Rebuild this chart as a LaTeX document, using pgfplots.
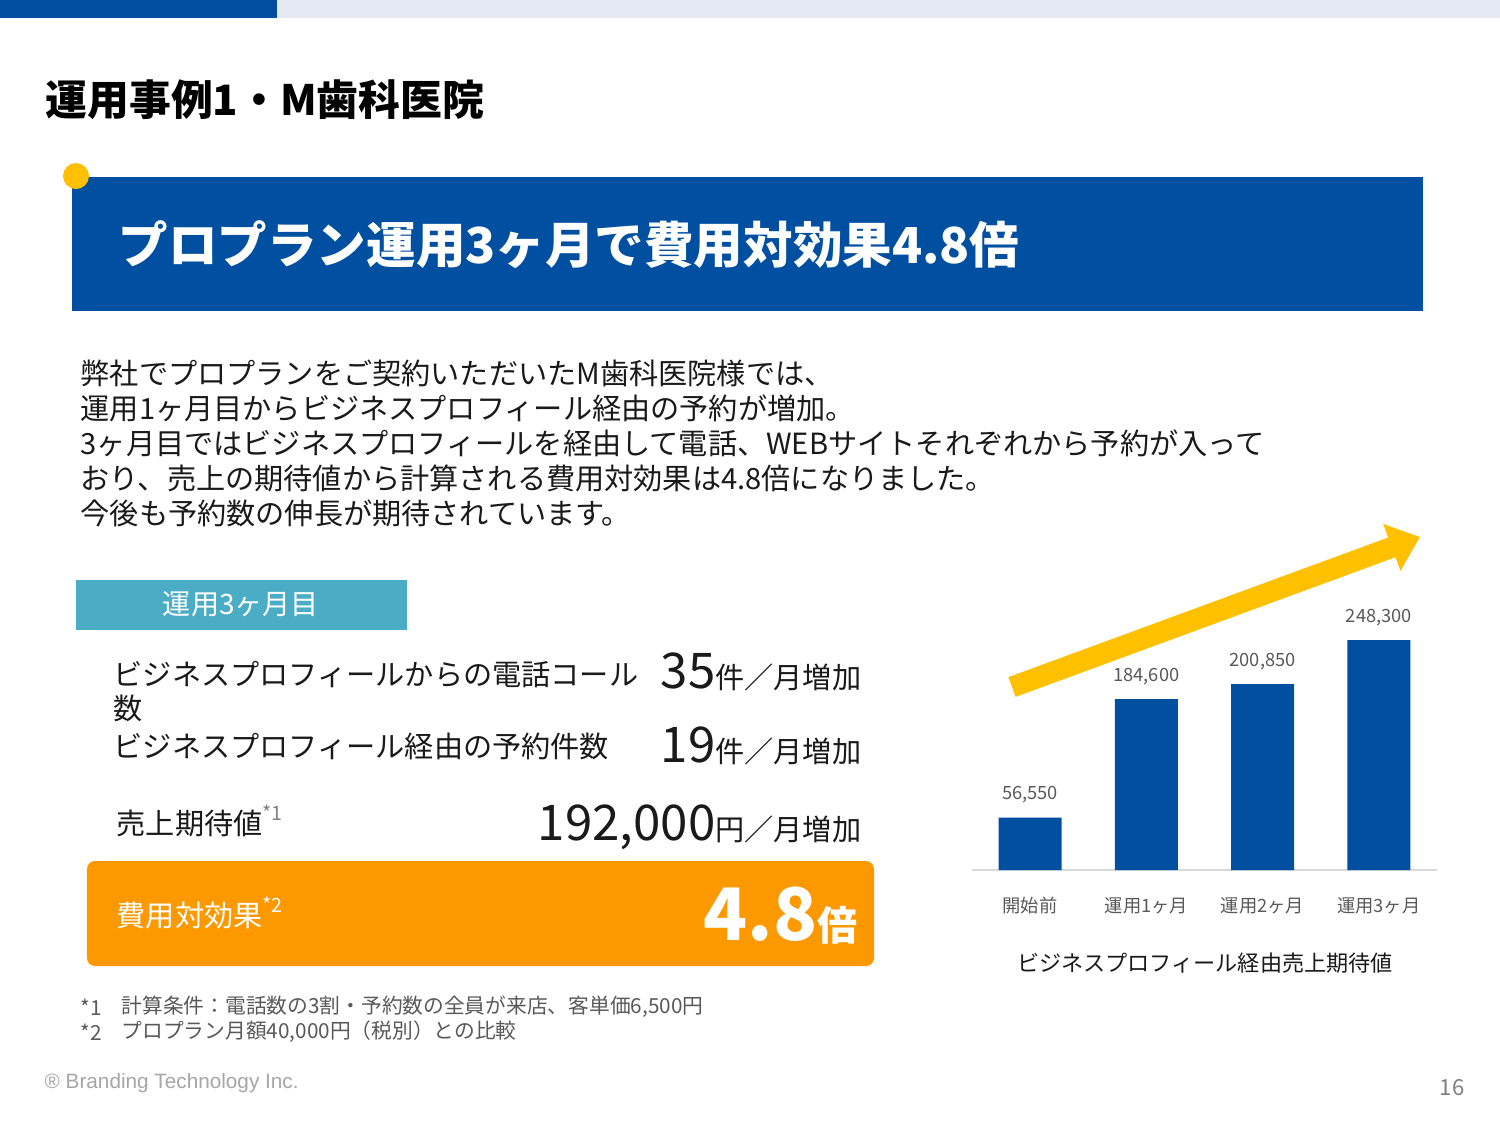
\documentclass[border=0pt]{standalone}
\usepackage{fontspec}
\setmainfont{Noto Sans CJK JP}
\newfontfamily\lib{Liberation Sans}
\usepackage{pgfplots}
\pgfplotsset{compat=1.18}
\usetikzlibrary{arrows.meta}
\definecolor{bblue}{RGB}{0,79,160}
\definecolor{lightband}{RGB}{227,234,244}
\definecolor{yel}{RGB}{255,192,0}
\definecolor{tealbox}{RGB}{75,172,198}
\definecolor{orng}{RGB}{253,153,0}
\definecolor{gtxt}{RGB}{89,89,89}
\definecolor{ltgray}{RGB}{217,217,217}
\definecolor{txt}{RGB}{26,26,26}
\newcommand{\fs}[1]{\fontsize{#1}{#1}\selectfont}
\newcommand{\sups}[2]{\raisebox{0.5em}{\fs{5.6}\color{#1}#2}}
\begin{document}
\begin{tikzpicture}[x=1cm,y=1cm]
\path[use as bounding box, fill=white] (0,0) rectangle (15,-11.25);
% top band
\fill[bblue] (0,0) rectangle (2.77,-0.18);
\fill[lightband] (2.77,0) rectangle (15,-0.18);
% heading
\node[anchor=west, inner sep=0, text=black, font=\fs{11.9}\bfseries] at (0.45,-1.00) {運用事例1・M歯科医院};
% banner
\fill[bblue] (0.72,-1.77) rectangle (14.23,-3.11);
\fill[yel] (0.76,-1.76) circle (0.13);
\node[anchor=west, inner sep=0, text=white, font=\fs{14.1}\bfseries] at (1.18,-2.45) {プロプラン運用3ヶ月で費用対効果4.8倍};
% body
\begin{scope}[every node/.style={anchor=west, inner sep=0, text=txt, font=\fs{8.3}}]
\node at (0.80,-3.73) {弊社でプロプランをご契約いただいたM歯科医院様では、};
\node at (0.80,-4.08) {運用1ヶ月目からビジネスプロフィール経由の予約が増加。};
\node at (0.80,-4.43) {3ヶ月目ではビジネスプロフィールを経由して電話、WEBサイトそれぞれから予約が入って};
\node at (0.80,-4.78) {おり、売上の期待値から計算される費用対効果は4.8倍になりました。};
\node at (0.80,-5.13) {今後も予約数の伸長が期待されています。};
\end{scope}
% teal box
\fill[tealbox] (0.76,-5.80) rectangle (4.07,-6.30);
\node[inner sep=0, text=white, font=\fs{8}] at (2.41,-6.04) {運用3ヶ月目};
% items
\begin{scope}[every node/.style={anchor=west, inner sep=0, text=txt, font=\fs{8.3}}]
\node at (1.13,-6.75) {ビジネスプロフィールからの電話コール};
\node at (1.13,-7.08) {数};
\node at (1.13,-7.46) {ビジネスプロフィール経由の予約件数};
\node at (1.16,-8.21) {売上期待値\sups{gray}{*1}};
\end{scope}
\begin{scope}[every node/.style={anchor=base east, inner sep=0, text=txt}]
\node at (8.62,-6.88) {\fs{14.0}35\fs{8.3}件／月増加};
\node at (8.62,-7.62) {\fs{14.0}19\fs{8.3}件／月増加};
\node at (8.62,-8.40) {\fs{14.0}192,000\fs{8.3}円／月増加};
\end{scope}
% orange box
\fill[orng, rounded corners=0.08cm] (0.87,-8.61) rectangle (8.74,-9.66);
\node[anchor=west, inner sep=0, text=white, font=\fs{8.3}] at (1.16,-9.13) {費用対効果\sups{white}{*2}};
\node[anchor=base east, inner sep=0, text=white, font=\bfseries] at (8.58,-9.40) {\fs{20.6}4.8\fs{11.4}倍};
% footnotes
\begin{scope}[every node/.style={anchor=west, inner sep=0, text=gtxt, font=\fs{5.9}}]
\node at (0.80,-10.07) {*1};
\node at (1.21,-10.07) {計算条件：電話数の3割・予約数の全員が来店、客単価6,500円};
\node at (0.80,-10.32) {*2};
\node at (1.21,-10.32) {プロプラン月額40,000円（税別）との比較};
\end{scope}
\node[anchor=west, inner sep=0, text=black!35, font=\lib\fs{5.9}] at (0.44,-10.83) {® Branding Technology Inc.};
\node[inner sep=0, text=gray, font=\fs{6.3}] at (14.52,-10.88) {16};
% chart
\draw[yel, line width=0.21cm, -{Triangle[length=0.3cm, width=0.48cm]}] (10.12,-6.87) -- (14.20,-5.37);
\begin{axis}[at={(9.72cm,-8.70cm)}, anchor=south west, scale only axis,
  width=4.65cm, height=2.778cm, xmin=-0.5, xmax=3.5, ymin=0, ymax=300000,
  axis x line=bottom, axis y line=none,
  x axis line style={-, draw=ltgray, line width=0.6pt},
  xtick=data, xticklabels={開始前,運用1ヶ月,運用2ヶ月,運用3ヶ月},
  xticklabel style={font=\fs{5.2}, text=gtxt, yshift=-0.15cm},
  major tick length=0pt,
  ybar, bar width=0.63cm,
  nodes near coords,
  nodes near coords style={font=\fs{5.2}, text=gtxt, yshift=0.02cm},
  /pgf/number format/.cd, fixed, precision=0, 1000 sep={,}, assume math mode=true]
\addplot[fill=bblue, draw=none] coordinates {(0,56550) (1,184600) (2,200850) (3,248300)};
\end{axis}
\node[inner sep=0, text=txt, font=\fs{6.3}] at (12.05,-9.63) {ビジネスプロフィール経由売上期待値};
\end{tikzpicture}
\end{document}
